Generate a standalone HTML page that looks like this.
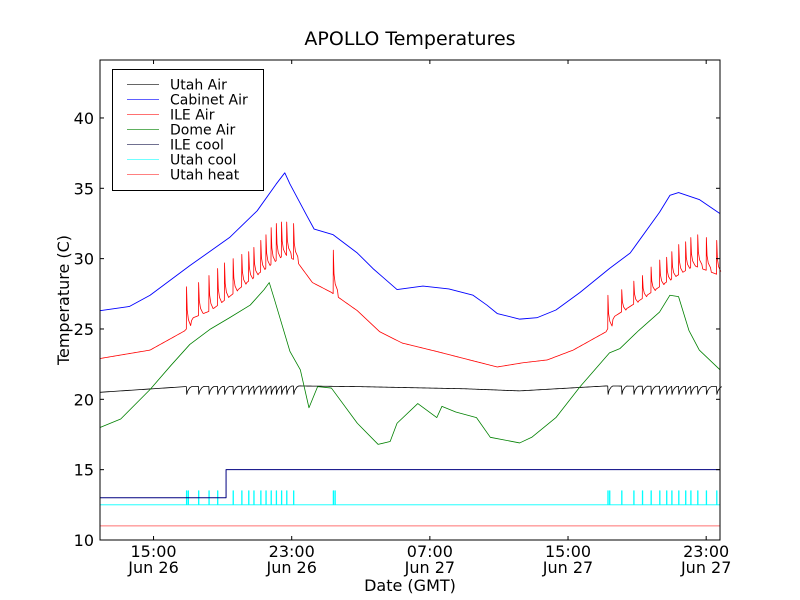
<!DOCTYPE html>
<html><head><meta charset="utf-8"><style>
body{margin:0;background:#fff;}
svg{display:block;font-family:"DejaVu Sans","Liberation Sans",sans-serif;}
</style></head><body>
<svg id="chart" width="800" height="600" viewBox="0 0 800 600">
<rect width="800" height="600" fill="#fff"/>
<text x="410" y="45" font-size="19" text-anchor="middle">APOLLO Temperatures</text>
<g id="series"></g>
<rect x="100" y="60" width="620" height="480" fill="none" stroke="#000" stroke-width="1"/>
<g id="axes"></g>
<text x="410" y="591" font-size="16" text-anchor="middle">Date (GMT)</text>
<text transform="translate(69,300) rotate(-90)" font-size="16" text-anchor="middle">Temperature (C)</text>
<g id="legend"></g>
</svg>
<script>
// hours since Jun 26 00:00 GMT
const xTickHours=[15,23,31,39,47];
const xTickTime=["15:00","23:00","07:00","15:00","23:00"];
const xTickDay=["Jun 26","Jun 26","Jun 27","Jun 27","Jun 27"];
const yTicks=[10,15,20,25,30,35,40];

const cabT=[11.9,13.6,14.8,17.1,19.4,21.0,22.1,22.6,22.9,23.9,24.3,25.4,26.8,27.7,29.1,30.6,32.1,33.5,34.3,34.9,36.2,37.2,38.3,39.7,41.4,42.6,44.3,44.9,45.4,46.6,47.8];
const cabV=[26.3,26.6,27.4,29.5,31.5,33.4,35.3,36.1,35.3,33.0,32.1,31.7,30.4,29.3,27.8,28.05,27.85,27.4,26.7,26.1,25.7,25.8,26.35,27.6,29.3,30.4,33.3,34.5,34.7,34.2,33.2];

const domeT=[11.9,13.1,14.8,16.0,17.1,18.3,19.4,20.6,21.4,21.7,22.0,22.9,23.5,24.0,24.5,25.3,26.8,28.0,28.7,29.1,30.3,31.4,31.7,32.5,33.7,34.5,36.2,36.9,38.3,39.7,41.4,42.0,43.1,44.3,44.9,45.4,46.0,46.6,47.8];
const domeV=[18.0,18.6,20.7,22.4,23.9,25.0,25.8,26.7,27.8,28.3,27.1,23.4,22.1,19.4,20.9,20.8,18.3,16.8,17.0,18.3,19.7,18.7,19.5,19.1,18.7,17.3,16.9,17.3,18.7,20.9,23.3,23.6,24.9,26.2,27.4,27.3,24.9,23.5,22.1];

const ileT=[11.9,14.8,16.85,17.3,18.3,19.4,20.6,21.7,22.6,23.3,24.2,25.3,26.8,28.1,29.4,31.4,33.3,34.9,36.4,37.8,39.3,41.2,41.7,43.1,44.9,46.3,47.8];
const ileV=[22.9,23.5,24.9,25.8,26.3,27.3,28.5,29.5,30.3,29.8,28.3,27.6,26.3,24.8,24.0,23.4,22.8,22.3,22.6,22.8,23.5,24.8,25.9,27.0,28.5,29.5,28.8];
const spikeHours=[16.9,17.6,18.2,18.7,19.1,19.6,20.1,20.5,20.8,21.2,21.5,21.8,22.1,22.4,22.7,23.1,25.4,41.3,42.1,42.8,43.3,43.8,44.3,44.7,45.0,45.4,45.8,46.1,46.5,47.0,47.6];
const spikePeaks=[28.0,28.3,28.8,29.3,29.7,30.0,30.3,30.5,30.8,31.3,31.7,32.2,32.5,32.6,32.6,32.5,30.6,27.4,27.8,28.4,28.8,29.4,29.9,30.1,30.5,31.0,31.2,31.5,31.7,31.5,31.3];

const utahT=[11.9,16.8,23.5,27.0,33.0,36.2,41.2,47.8];
const utahV=[20.5,20.9,20.95,20.9,20.75,20.6,20.95,20.9];
const utahDip=20.35;

const ileCoolT=[11.9,19.2,19.2,47.8];
const ileCoolV=[13.0,13.0,15.0,15.0];
const utahCoolBase=12.5, utahCoolOn=13.5;
const utahCoolSpikes=[16.9,17.0,17.6,18.2,18.7,19.6,20.1,20.5,20.8,21.2,21.5,21.8,22.1,22.4,22.7,23.1,25.4,25.5,41.3,41.4,42.1,42.8,43.3,43.8,44.3,44.7,45.0,45.4,45.8,46.1,46.5,47.0,47.6];
const utahHeat=11.0;

const X0=11.9,X1=47.8,Y0=10,Y1=44.12;
const xs=h=>100+(h-X0)/(X1-X0)*620;
const ys=v=>540-(v-Y0)/(Y1-Y0)*480;
const NS="http://www.w3.org/2000/svg";
function interp(T,V,t){if(t<=T[0])return V[0];for(let i=1;i<T.length;i++){if(t<=T[i]){const f=(t-T[i-1])/(T[i]-T[i-1]||1);return V[i-1]+f*(V[i]-V[i-1]);}}return V[V.length-1];}
function path(pts,color,name,w){const p=document.createElementNS(NS,"path");
p.setAttribute("d","M"+pts.map(q=>xs(q[0]).toFixed(2)+","+ys(q[1]).toFixed(2)).join("L"));
p.setAttribute("fill","none");p.setAttribute("stroke",color);p.setAttribute("stroke-width",w||1);
p.setAttribute("stroke-linejoin","round");


document.getElementById("series").appendChild(p);}
function zip(T,V){return T.map((t,i)=>[t,V[i]]);}

// Utah heat
path([[X0,utahHeat],[X1,utahHeat]],"#ff7070","series-utah-heat");
// Utah cool
{let pts=[[X0,utahCoolBase]];utahCoolSpikes.forEach(t=>{pts.push([t,utahCoolBase],[t,utahCoolOn],[t+0.03,utahCoolOn],[t+0.03,utahCoolBase]);});pts.push([X1,utahCoolBase]);path(pts,"#00ffff","series-utah-cool",0.8);}
// ILE cool
path(zip(ileCoolT,ileCoolV),"#000080","series-ile-cool");
// Utah air
{let pts=[];
let dips=spikeHours.filter(h=>Math.abs(h-25.4)>0.1);
let all=[];for(let t=X0;t<=X1;t+=0.1)all.push(t);
let pos=0;
dips.forEach(h=>{for(;pos<all.length&&all[pos]<h;pos++)pts.push([all[pos],interp(utahT,utahV,all[pos])]);
const b=interp(utahT,utahV,h);pts.push([h,b],[h+0.02,utahDip],[h+0.08,b-0.3],[h+0.2,b-0.08],[h+0.3,b]);while(pos<all.length&&all[pos]<h+0.3)pos++;});
for(;pos<all.length;pos++)pts.push([all[pos],interp(utahT,utahV,all[pos])]);
path(pts,"#000","series-utah-air",0.8);}
// Dome air
path(zip(domeT,domeV),"#008000","series-dome-air",0.8);
// ILE air with spikes
{let pts=[];let k=0;let last=-1;for(let t=X0;t<=X1+0.001;t+=0.1){
while(k<spikeHours.length&&spikeHours[k]<=t){const h=spikeHours[k],b=interp(ileT,ileV,h),p=spikePeaks[k],d=p-b;
pts.push([h,b],[h+0.01,p],[h+0.05,b+d*0.45],[h+0.12,b+d*0.22],[h+0.25,b+d*0.08]);last=h+0.25;k++;}
if(t>last)pts.push([t,interp(ileT,ileV,t)]);}
path(pts,"#ff0000","series-ile-air",0.8);}
// Cabinet air
path(zip(cabT,cabV),"#0000ff","series-cabinet-air",0.9);

// axes
const ax=document.getElementById("axes");
function el(tag,attrs,txt){const e=document.createElementNS(NS,tag);for(const k in attrs)e.setAttribute(k,attrs[k]);if(txt!==undefined)e.textContent=txt;ax.appendChild(e);return e;}
yTicks.forEach(v=>{const y=ys(v);
let a=el("line",{x1:100,x2:104,y1:y,y2:y,stroke:"#000"});
let b=el("line",{x1:716,x2:720,y1:y,y2:y,stroke:"#000"});
let t=el("text",{x:94,y:y+6,"font-size":16,"text-anchor":"end"},String(v));});
xTickHours.forEach((h,i)=>{const x=xs(h);
let a=el("line",{x1:x,x2:x,y1:540,y2:536,stroke:"#000"});
let b=el("line",{x1:x,x2:x,y1:60,y2:64,stroke:"#000"});
let t1=el("text",{x:x,y:557,"font-size":16,"text-anchor":"middle"},xTickTime[i]);
let t2=el("text",{x:x,y:573,"font-size":16,"text-anchor":"middle"},xTickDay[i]);});

// legend
const legNames=["Utah Air","Cabinet Air","ILE Air","Dome Air","ILE cool","Utah cool","Utah heat"];
const legColors=["#666","#6060ff","#ff7070","#60b060","#707090","#70ffff","#ff8080"];
const lg=document.getElementById("legend");
const box=document.createElementNS(NS,"rect");
box.setAttribute("x",112.5);box.setAttribute("y",69.5);box.setAttribute("width",151);box.setAttribute("height",121);box.setAttribute("fill","#fff");box.setAttribute("stroke","#000");


lg.appendChild(box);
legNames.forEach((n,i)=>{const y=84.5+i*15;
const l=document.createElementNS(NS,"line");l.setAttribute("x1",127);l.setAttribute("x2",159);l.setAttribute("y1",y);l.setAttribute("y2",y);l.setAttribute("stroke",legColors[i]);


lg.appendChild(l);
const t=document.createElementNS(NS,"text");t.setAttribute("x",170);t.setAttribute("y",y+5);t.setAttribute("font-size",14);t.textContent=n;


lg.appendChild(t);});
</script>
</body></html>
